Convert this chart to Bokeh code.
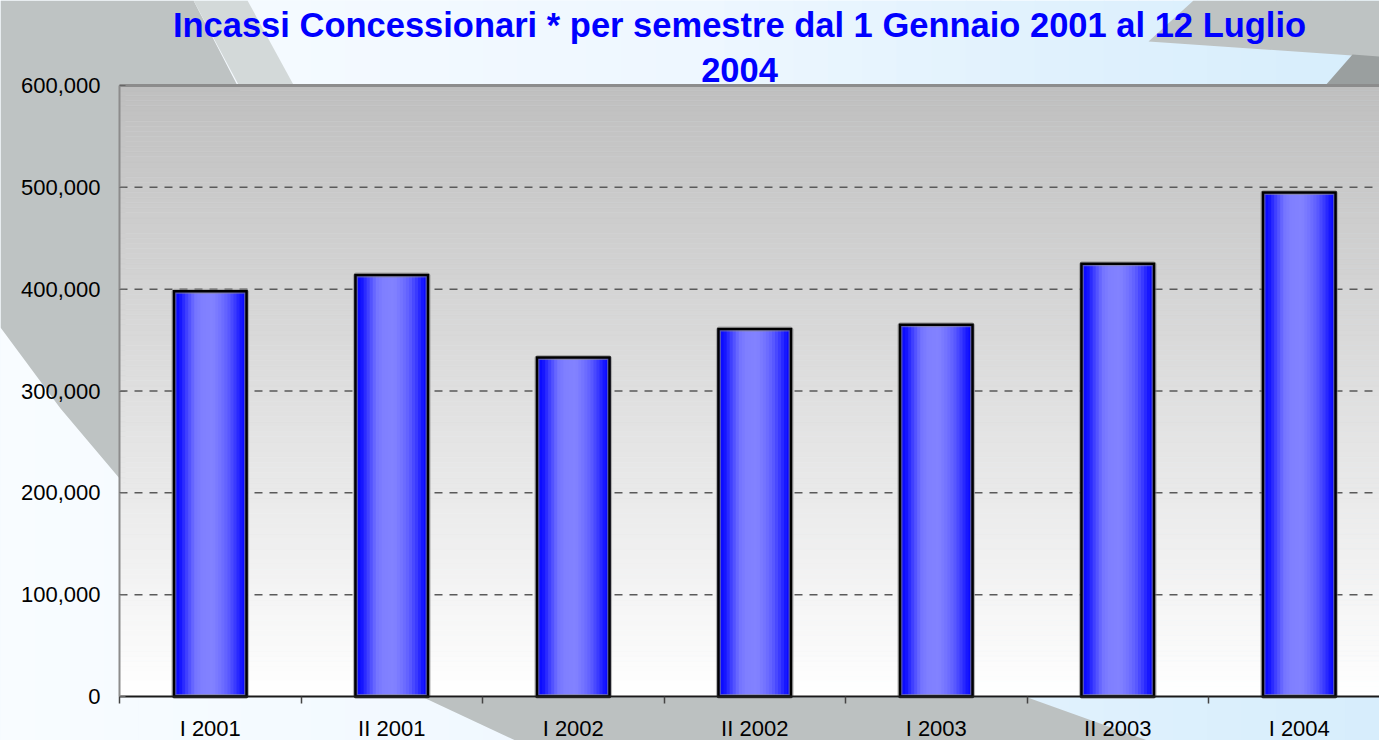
import numpy as np
from bokeh.plotting import figure
from bokeh.models import (FixedTicker, NumeralTickFormatter, Label, PolyAnnotation,
                          BoxAnnotation, Range1d)
from bokeh.embed import file_html
from bokeh.resources import INLINE

# ---------------- data ----------------
categories = ["I 2001", "II 2001", "I 2002", "II 2002", "I 2003", "II 2003", "I 2004"]
incassi = [398000, 414000, 333000, 361000, 365000, 425000, 495000]
y_ticks = [0, 100000, 200000, 300000, 400000, 500000, 600000]
title_lines = ["Incassi Concessionari * per semestre dal 1 Gennaio 2001 al 12 Luglio", "2004"]

# ---------------- layout (pixels) ----------------
W, H = 1379, 740
PLOT_L, PLOT_T, PLOT_B = 119, 85, 696      # plot-area edges in canvas pixels
CAT_PX = 181.5                             # pixels per category
Y_MAX = 600000
unit_px = (PLOT_B - PLOT_T) / Y_MAX

x_start = -PLOT_L / CAT_PX
x_end = (W - PLOT_L) / CAT_PX
y_start = -(H - PLOT_B) / unit_px
y_end = Y_MAX + PLOT_T / unit_px

p = figure(width=W, height=H, output_backend="svg", toolbar_location=None,
           x_range=Range1d(x_start, x_end), y_range=Range1d(y_start, y_end),
           min_border=0, min_border_left=0, min_border_right=0,
           min_border_top=0, min_border_bottom=0)
p.title.visible = False
p.border_fill_color = "#eef7ff"
p.background_fill_color = "#eef7ff"
p.outline_line_color = None
p.xgrid.visible = False
p.ygrid.visible = False


def sx(X):
    return X


def sy(Y):
    return H - Y


def hexc(r, g, b):
    return "#%02x%02x%02x" % (int(round(r)), int(round(g)), int(round(b)))


# page background: light blue horizontal gradient
edges_x = np.linspace(0, W, 41)
for a, b in zip(edges_x[:-1], edges_x[1:]):
    m = (a + b) / 2
    r = np.interp(m, [0, 700, 1000, 1379], [248, 238, 226, 214])
    g = np.interp(m, [0, 700, 1000, 1379], [252, 247, 242, 237])
    bb = np.interp(m, [0, 700, 1000, 1379], [255, 255, 253, 252])
    p.add_layout(BoxAnnotation(left=sx(a), right=sx(b) + 1, top=sy(0), bottom=sy(H),
                               left_units="screen", right_units="screen",
                               top_units="screen", bottom_units="screen",
                               fill_color=hexc(r, g, bb), fill_alpha=1, line_alpha=0,
                               level="image"))

# decorative swooshes
swooshes = [
    ([(0, 0), (193, 0), (240, 91), (125, 91), (125, 485), (60, 408), (0, 327)], "#bec3c3"),
    ([(193, 0), (247, 0), (295, 88), (240, 88)], "#d3d9d9"),
    ([(423, 697), (1027, 697), (1147, 740), (515, 740)], "#bcc1c1"),
    ([(1193, 0), (1379, 0), (1379, 57), (1352, 55), (1148, 41)], "#bec3c3"),
    ([(1352, 54), (1379, 56), (1379, 86), (1324, 86)], "#9a9f9f"),
]
for pts, col in swooshes:
    p.add_layout(PolyAnnotation(xs=[sx(x) for x, _ in pts], ys=[sy(y) for _, y in pts],
                                xs_units="screen", ys_units="screen",
                                fill_color=col, fill_alpha=1, line_alpha=0, level="image"))

# plot-area vertical gradient (grey top -> white bottom)
edges_y = np.linspace(0, Y_MAX, 121)
mids = (edges_y[:-1] + edges_y[1:]) / 2
shade = 255 - mids / Y_MAX * 64
grad_cols = [hexc(s, s, s) for s in shade]
p.quad(left=0, right=x_end + 1, bottom=edges_y[:-1], top=edges_y[1:],
       fill_color=grad_cols, line_color=grad_cols, line_width=0.5)

# dashed gridlines
grid_y = y_ticks[1:-1]
p.segment(x0=[0] * len(grid_y), x1=[x_end + 1] * len(grid_y), y0=grid_y, y1=grid_y,
          line_color="#5a5a5a", line_width=1.5, line_dash="8 7")

# top border of plot area
p.segment(x0=[0], x1=[x_end + 1], y0=[Y_MAX], y1=[Y_MAX], line_color="#8c8c8c", line_width=3)

# bars with horizontal gradient
centers = np.arange(len(categories)) + 0.5
bar_w = 0.40
N = 24
prof_t = [0, .1, .2, .3, .4, .55, .65, .75, .85, .93, 1]
prof_v = [0, 20, 70, 115, 128, 130, 115, 95, 60, 25, 5]
for k in range(N):
    t = (k + 0.5) / N
    v = np.interp(t, prof_t, prof_v)
    p.vbar(x=centers - bar_w / 2 + (k + 0.5) * bar_w / N, width=bar_w / N * 1.6,
           top=incassi, bottom=0, fill_color=hexc(v, v, 255), line_color=None)
p.vbar(x=centers, width=bar_w, top=incassi, bottom=0, fill_color=None,
       line_color="#8a8a8a", line_width=5, line_alpha=0.6)
p.vbar(x=centers, width=bar_w, top=incassi, bottom=0, fill_color=None,
       line_color="black", line_width=2.5, line_join="miter")

# axes (placed at data locations inside the full-canvas frame)
p.yaxis.fixed_location = 0
p.yaxis.bounds = (0, Y_MAX)
p.yaxis.ticker = FixedTicker(ticks=y_ticks)
p.yaxis.formatter = NumeralTickFormatter(format="0,0")
p.yaxis.major_label_text_font = "Liberation Sans"
p.yaxis.major_label_text_font_size = "22px"
p.yaxis.major_label_text_color = "black"
p.yaxis.axis_line_color = "#8c8c8c"
p.yaxis.axis_line_width = 2
p.yaxis.major_tick_in = 6
p.yaxis.major_tick_out = 0
p.yaxis.major_tick_line_color = "#666666"
p.yaxis.minor_tick_line_color = None
p.yaxis.major_label_standoff = 19

p.xaxis.fixed_location = 0
p.xaxis.bounds = (0, x_end + 1)
p.xaxis.ticker = FixedTicker(ticks=list(centers), minor_ticks=list(range(len(categories) + 1)))
p.xaxis.major_label_overrides = {float(c): lab for c, lab in zip(centers, categories)}
p.xaxis.major_label_text_font = "Liberation Sans"
p.xaxis.major_label_text_font_size = "22px"
p.xaxis.major_label_text_color = "black"
p.xaxis.major_tick_in = 0
p.xaxis.major_tick_out = 0
p.xaxis.major_label_standoff = 12
p.xaxis.minor_tick_in = 0
p.xaxis.minor_tick_out = 7
p.xaxis.minor_tick_line_color = "#444444"
p.xaxis.minor_tick_line_width = 1.5
p.xaxis.axis_line_color = "#1a1a1a"
p.xaxis.axis_line_width = 2

# title (two lines)
for txt, yy in zip(title_lines, [24, 69]):
    p.add_layout(Label(x=sx(739), y=sy(yy), x_units="screen", y_units="screen", text=txt,
                       text_align="center", text_baseline="alphabetic",
                       text_font="Liberation Sans", text_font_style="bold",
                       text_font_size="34.5px", text_color="#0000ff"))

open("out.html", "w").write(file_html(p, INLINE))
